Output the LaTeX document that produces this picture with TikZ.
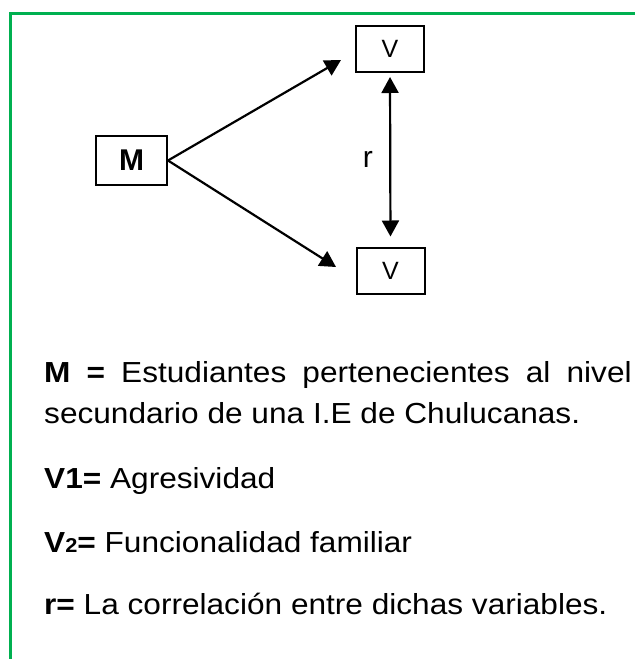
\documentclass[tikz,border=0pt]{standalone}
\usepackage{fontspec}
\setmainfont{Liberation Sans}
\usepackage{tikz}
\usetikzlibrary{arrows.meta}
\definecolor{framegreen}{RGB}{0,176,80}
\newcommand{\widetext}[1]{\scalebox{1.09}[1]{#1}}

\begin{document}
\begin{tikzpicture}[x=1pt, y=-1pt,
        varbox/.style={draw, line width=2pt, inner sep=0pt},
        link/.style={line width=2.2pt, -{Triangle[width=17pt,length=16pt]}},
        legend/.style={anchor=base west, inner sep=0pt, font=\fontsize{29}{35}\selectfont}]
        \useasboundingbox (0,0) rectangle (635,659);
        \draw[framegreen, line width=2.4pt] (10.5,659) -- (10.5,13.5) -- (635,13.5);

        \node (M)   at (131.5,160.5) [varbox, minimum width=71pt, minimum height=49pt, font=\fontsize{30}{30}\selectfont\bfseries] {M};
        \node (V1)  at (390,49)      [varbox, minimum width=68pt, minimum height=46pt, font=\fontsize{25}{25}\selectfont] {V};
        \node (V2)  at (390.5,270.5) [varbox, minimum width=68pt, minimum height=46pt, font=\fontsize{25}{25}\selectfont] {V};

        \coordinate (tip1) at (341,60);
        \coordinate (tip2) at (336,267);

        \draw[link]                                  (M.east)   to                                              (tip1);
        \draw[link]                                  (M.east)   to                                              (tip2);
        \draw[link, {Triangle[width=17pt,length=16pt]}-{Triangle[width=17pt,length=16pt]}, shorten <=4pt, shorten >=10pt]
                                                     (V1.south) to node[midway, left=13pt, font=\fontsize{30}{30}\selectfont] (r) {r} (V2.north);

        \node (line1) at (44,382) [legend] {\widetext{\makebox[539pt][s]{\textbf{M =} Estudiantes pertenecientes al nivel}}};
        \node (line2) at (44,423) [legend] {\widetext{secundario de una I.E de Chulucanas.}};
        \node (line3) at (44,488) [legend] {\widetext{\textbf{V1=} Agresividad}};
        \node (line4) at (44,552) [legend] {\widetext{\textbf{V{\fontsize{20}{20}\selectfont 2}=} Funcionalidad familiar}};
        \node (line5) at (44,614) [legend] {\widetext{\textbf{r=} La correlación entre dichas variables.}};
    \end{tikzpicture}
\end{document}
